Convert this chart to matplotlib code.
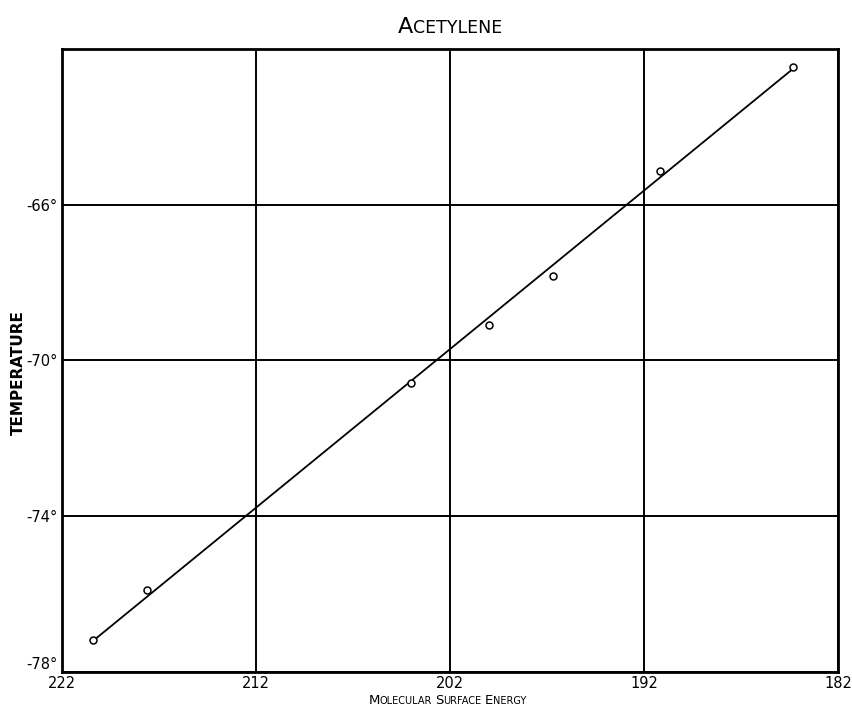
import matplotlib
matplotlib.use("Agg")
import matplotlib.pyplot as plt
from matplotlib.offsetbox import TextArea, HPacker, AnnotationBbox

# Data (molecular surface energy vs temperature)
energy = [220.4, 217.6, 204.0, 200.0, 196.7, 191.2, 184.3]
temperature = [-77.18, -75.9, -70.59, -69.08, -67.82, -65.13, -62.46]

# fitted straight line drawn through the points
line_energy = [220.4, 184.3]
line_temp = [-77.2, -62.5]

x_ticks = [222, 212, 202, 192, 182]
y_ticks = [-78, -74, -70, -66]
y_tick_labels = ["-78°", "-74°", "-70°", "-66°"]

fig = plt.figure(figsize=(8.52, 7.09), dpi=100)
ax = fig.add_axes([0.0728, 0.0522, 0.9108, 0.8787])

ax.plot(line_energy, line_temp, color='black', linewidth=1.3)
ax.plot(energy, temperature, linestyle='none', marker='o', markersize=5,
        markerfacecolor='white', markeredgecolor='black', markeredgewidth=1.1)

ax.set_xlim(222, 182)
ax.set_ylim(-78, -62)
ax.set_xticks(x_ticks)
ax.set_yticks(y_ticks)
ax.set_yticklabels(y_tick_labels)
ax.tick_params(length=0, labelsize=10.5, pad=3)
ax.grid(True, color='black', linewidth=1.4)
for s in ax.spines.values():
    s.set_linewidth(2)
    s.set_color('black')

# the bottom temperature label sits just above the corner, like the original
ax.get_yticklabels()[0].set_verticalalignment('bottom')


# fake small caps: first letter of each word bigger
def small_caps(text, big, small):
    parts = []
    for i, word in enumerate(text.split()):
        if i > 0:
            parts.append(TextArea(" ", textprops=dict(size=small)))
        parts.append(TextArea(word[0], textprops=dict(size=big)))
        parts.append(TextArea(word[1:], textprops=dict(size=small)))
    return HPacker(children=parts, align="baseline", pad=0, sep=0)


title = AnnotationBbox(small_caps("ACETYLENE", 16, 12.5), (0.528, 0.962),
                       xycoords='figure fraction', frameon=False)
fig.add_artist(title)

xlab = AnnotationBbox(small_caps("MOLECULAR SURFACE ENERGY", 9.5, 7), (0.525, 0.012),
                      xycoords='figure fraction', frameon=False)
fig.add_artist(xlab)

fig.text(0.021, 0.475, "TEMPERATURE", rotation=90, fontsize=11,
         fontweight='bold', ha='center', va='center')

fig.savefig("out.png", dpi=100)
